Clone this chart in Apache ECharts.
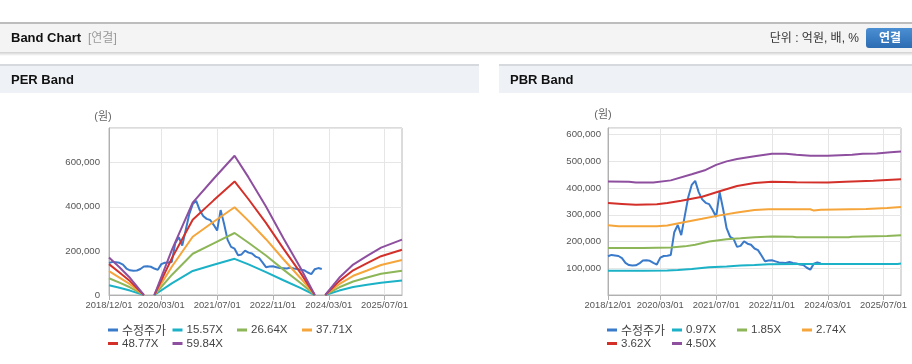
<!DOCTYPE html>
<html>
<head>
<meta charset="utf-8">
<script src="https://cdn.jsdelivr.net/npm/echarts@6/dist/echarts.min.js"></script>
<style>
html,body{margin:0;padding:0;background:#fff;}
#c{width:912px;height:364px;}
</style>
</head>
<body>
<div id="c"></div>
<script>
// ---- categories (monthly, 2018/12 .. 2025/12) ----
const months = [];
for (let k = 0; k < 85; k++) {
  const m = 11 + k; const y = 2018 + Math.floor(m / 12); const mm = (m % 12) + 1;
  months.push(y + '/' + String(mm).padStart(2, '0') + '/01');
}
const xTickLabels = ['2018/12/01','2020/03/01','2021/07/01','2022/11/01','2024/03/01','2025/07/01'];

// ---- 수정주가 (monthly, won) ----
const price = [145000,150000,148000,146000,138000,120000,112000,110000,111000,118000,
  129000,130000,128000,120000,114000,140000,146000,147000,150000,235000,
  262000,224000,295000,366000,412000,427000,385000,358000,345000,340000,
  318000,292000,385000,322000,250000,218000,210000,180000,184000,201000,
  192000,188000,174000,168000,148000,126000,129000,130000,126000,122000,
  121000,120000,124000,120000,118000,114000,112000,102000,95000,117000,
  122000,118000];

// ---- PER bands: [month index, won] ----
const per1557 = [[0,44000],[3,33000],[6,20000],[10,0],[11,null],[13,0],[18,53000],[24,109000],[30,137000],[36,164000],[40,139000],[45,104000],[50,67000],[55,31000],[59,0],[60,null],[62,0],[66,20000],[70,36000],[74,46000],[78,56000],[84,66000]];
const per2664 = [[0,76000],[3,56000],[6,35000],[10,0],[11,null],[13,0],[18,91000],[24,187000],[30,234000],[36,281000],[40,237000],[45,179000],[50,115000],[55,53000],[59,0],[60,null],[62,0],[66,35000],[70,61000],[74,79000],[78,96000],[84,110000]];
const per3771 = [[0,108000],[3,79000],[6,49000],[10,0],[11,null],[13,0],[18,128000],[24,264000],[30,332000],[36,398000],[40,336000],[45,253000],[50,162000],[55,75000],[59,0],[60,null],[62,0],[66,49000],[70,87000],[74,111000],[78,136000],[84,159000]];
const per4877 = [[0,140000],[3,102000],[6,63000],[10,0],[11,null],[13,0],[18,166000],[24,341000],[30,429000],[36,515000],[40,434000],[45,327000],[50,210000],[55,98000],[59,0],[60,null],[62,0],[66,63000],[70,112000],[74,144000],[78,176000],[84,205000]];
const per5984 = [[0,170000],[3,126000],[6,78000],[10,0],[11,null],[13,0],[18,203000],[24,419000],[30,527000],[36,631000],[40,533000],[45,401000],[50,257000],[55,120000],[59,0],[60,null],[62,0],[66,78000],[70,138000],[74,177000],[78,215000],[84,251000]];

// ---- PBR bands: [month index, won] ----
const pbr097 = [[0,91000],[10,91000],[17,92000],[20,94000],[24,97000],[29,104000],[34,107000],[38,110000],[42,112000],[46,115000],[55,116000],[70,116000],[83,116000],[84,118000]];
const pbr185 = [[0,176000],[10,176000],[18,178000],[22,182000],[25,188000],[29,200000],[34,209000],[38,212000],[42,216000],[47,219000],[53,218000],[54,216000],[69,216000],[70,218000],[80,221000],[84,224000]];
const pbr274 = [[0,261000],[3,257000],[14,257000],[17,260000],[21,270000],[27,285000],[32,298000],[37,309000],[42,318000],[46,321000],[58,321000],[59,316000],[61,319000],[74,322000],[80,326000],[84,329000]];
const pbr362 = [[0,344000],[4,341000],[8,338000],[14,340000],[17,344000],[21,353000],[27,368000],[32,388000],[37,408000],[42,419000],[47,424000],[54,422000],[63,421000],[68,424000],[76,428000],[84,433000]];
const pbr450 = [[0,425000],[6,424000],[8,421000],[13,421000],[18,429000],[24,452000],[28,468000],[31,487000],[34,500000],[37,509000],[42,519000],[47,529000],[51,529000],[54,525000],[58,521000],[63,521000],[70,525000],[73,529000],[77,530000],[81,534000],[84,537000]];

const perNames = ['수정주가','15.57X','26.64X','37.71X','48.77X','59.84X'];
const pbrNames = ['수정주가','0.97X','1.85X','2.74X','3.62X','4.50X'];
const colors = ['#3a7acb','#1bb1c6','#8db658','#f5a53a','#d3302a','#8e4f9f'];

const FONT = "'Liberation Sans','Noto Sans CJK KR',sans-serif";
const KFONT = "'Noto Sans CJK KR',sans-serif";
const showTick = (i, v) => xTickLabels.indexOf(v) >= 0;
const fmt = v => String(v).replace(/\B(?=(\d{3})+(?!\d))/g, ',');

function xAxis(gi) {
  return {
    type: 'category', gridIndex: gi, data: months, boundaryGap: false,
    axisLine: { lineStyle: { color: '#b0b0b0', width: 1 } },
    axisTick: { show: true, interval: showTick, length: 5, lineStyle: { color: '#b0b0b0' } },
    axisLabel: { interval: showTick, fontSize: 9.4, color: '#555', margin: 6, fontFamily: FONT },
    splitLine: { show: true, interval: showTick, lineStyle: { color: '#e6e6e6' } }
  };
}
function yAxis(gi, max, interval, margin, showMin) {
  return {
    type: 'value', gridIndex: gi, min: 0, max: max, interval: interval,
    axisLine: { show: true, lineStyle: { color: '#b0b0b0' } },
    axisTick: { show: false },
    axisLabel: { fontSize: 9.6, color: '#555', margin: margin, fontFamily: FONT,
      showMaxLabel: false, showMinLabel: showMin, formatter: fmt },
    splitLine: { lineStyle: { color: '#e6e6e6' } }
  };
}
function line(name, data, gi, color) {
  return { type: 'line', name: name, data: data, xAxisIndex: gi, yAxisIndex: gi,
    symbol: 'none', showSymbol: false, connectNulls: false, animation: false,
    lineStyle: { width: 2, color: color }, itemStyle: { color: color },
    emphasis: { disabled: true } };
}
function legendItem(name, x, y) {
  const korean = /[가-힣]/.test(name);
  return { data: [name], left: x, top: y - 7, padding: 0, itemGap: 0,
    itemWidth: 10, itemHeight: 3, icon: 'rect', selectedMode: false,
    textStyle: { fontSize: korean ? 12 : 11.5, lineHeight: 14, color: '#444',
      fontFamily: korean ? KFONT : FONT, padding: [0, 0, 0, -1] } };
}

const perCols = [108, 172.5, 237, 302], pbrCols = [607, 672, 737, 802], rows = [330, 343.5];
const legends = [];
[[perNames, perCols], [pbrNames, pbrCols]].forEach(([names, cols]) => {
  names.forEach((n, k) => {
    const r = k < 4 ? 0 : 1, c = k < 4 ? k : k - 4;
    legends.push(legendItem(n, cols[c], rows[r]));
  });
});

const perSeries = [price, per1557, per2664, per3771, per4877, per5984];
const pbrSeries = [price, pbr097, pbr185, pbr274, pbr362, pbr450];
const series = [];
perSeries.forEach((d, k) => series.push(line(perNames[k], d, 0, colors[k])));
pbrSeries.forEach((d, k) => series.push(line(pbrNames[k], d, 1, colors[k])));

function txt(x, y, text, opt) {
  return Object.assign({ type: 'text', x: x, y: y, silent: true,
    style: Object.assign({ text: text, fontFamily: FONT, fontSize: 12, fill: '#333',
      align: 'left', verticalAlign: 'middle' }, opt || {}) });
}
const graphic = [
  { type: 'rect', shape: { x: 0, y: 22, width: 912, height: 31 }, style: { fill: '#f4f4f4' }, silent: true },
  { type: 'rect', shape: { x: 0, y: 22, width: 912, height: 2 }, style: { fill: '#bdbdbd' }, silent: true },
  { type: 'rect', shape: { x: 0, y: 52, width: 912, height: 4 }, silent: true,
    style: { fill: { type: 'linear', x: 0, y: 0, x2: 0, y2: 1, colorStops: [{ offset: 0, color: '#cfcfcf' }, { offset: 1, color: '#ffffff' }] } } },
  { type: 'rect', shape: { x: 0, y: 64, width: 479, height: 29 }, style: { fill: '#eef2f6' }, silent: true },
  { type: 'rect', shape: { x: 0, y: 64, width: 479, height: 2 }, style: { fill: '#d6d9de' }, silent: true },
  { type: 'rect', shape: { x: 499, y: 64, width: 413, height: 29 }, style: { fill: '#eef2f6' }, silent: true },
  { type: 'rect', shape: { x: 499, y: 64, width: 413, height: 2 }, style: { fill: '#d6d9de' }, silent: true },
  { type: 'rect', shape: { x: 866, y: 28, width: 52, height: 20, r: 3 }, silent: true,
    style: { fill: { type: 'linear', x: 0, y: 0, x2: 0, y2: 1, colorStops: [{ offset: 0, color: '#4b8fd3' }, { offset: 1, color: '#2c6cb2' }] } } },
  txt(11, 38.5, 'Band Chart', { fontSize: 13, fontWeight: 'bold', fill: '#111' }),
  txt(88, 38.5, '[연결]', { fontSize: 12, fill: '#999' }),
  txt(859, 38.5, '단위 : 억원, 배, %', { fontSize: 12, fill: '#333', align: 'right' }),
  txt(890, 38.5, '연결', { fontSize: 12, fontWeight: 'bold', fill: '#fff', align: 'center' }),
  txt(11, 80, 'PER Band', { fontSize: 13, fontWeight: 'bold', fill: '#111' }),
  txt(510, 80, 'PBR Band', { fontSize: 13, fontWeight: 'bold', fill: '#111' }),
  txt(103, 117, '(원)', { fontSize: 11, fill: '#666', align: 'center' }),
  txt(603, 115, '(원)', { fontSize: 11, fill: '#666', align: 'center' })
];

const chart = echarts.init(document.getElementById('c'), null, { renderer: 'canvas' });
chart.setOption({
  animation: false,
  color: colors,
  grid: [
    { left: 109, top: 128, width: 293, height: 167, show: true, borderColor: '#b8b8b8', borderWidth: 1, backgroundColor: 'transparent' },
    { left: 608, top: 128, width: 293, height: 167, show: true, borderColor: '#b8b8b8', borderWidth: 1, backgroundColor: 'transparent' }
  ],
  xAxis: [xAxis(0), xAxis(1)],
  yAxis: [yAxis(0, 757000, 200000, 9, true), yAxis(1, 625000, 100000, 7, false)],
  legend: legends,
  graphic: graphic,
  series: series
});
</script>
</body>
</html>
